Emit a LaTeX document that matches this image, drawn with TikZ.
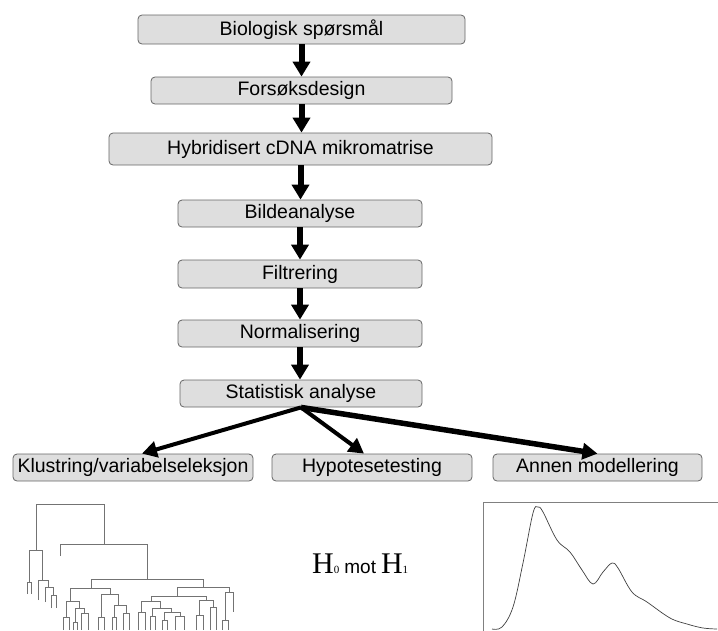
\documentclass[tikz,border=0pt]{standalone}
\usepackage{fontspec}
\setmainfont{Liberation Sans}
\newfontfamily\serifH{Liberation Serif}
\usetikzlibrary{arrows.meta}
\begin{document}
\begin{tikzpicture}[x=1pt,y=-1pt,
  box/.style={draw=black!60, fill=black!13, rounded corners=4pt, inner sep=0pt,
    font=\fontsize{19.5}{20}\selectfont, line width=0.8pt},
  flow/.style={line width=6pt, -{Triangle[length=15pt,width=17pt]}},
  fan/.style={line width=4pt, -{Triangle[length=15pt,width=16pt]}},
  dendro/.style={black!55, line width=0.9pt},
]
\useasboundingbox (0,0) rectangle (718,630);

% main flow boxes
\node[box, minimum width=327pt, minimum height=29pt] (b1) at (301.5,29.5) {Biologisk spørsmål};
\node[box, minimum width=301pt, minimum height=27pt] (b2) at (301.5,90.5) {Forsøksdesign};
\node[box, minimum width=383pt, minimum height=32pt] (b3) at (300.5,149) {Hybridisert cDNA mikromatrise};
\node[box, minimum width=244pt, minimum height=27pt] (b4) at (300,213.5) {Bildeanalyse};
\node[box, minimum width=244pt, minimum height=28pt] (b5) at (300,274) {Filtrering};
\node[box, minimum width=244pt, minimum height=27pt] (b6) at (300,333.5) {Normalisering};
\node[box, minimum width=242pt, minimum height=27pt] (b7) at (301,393.5) {Statistisk analyse};

% bottom boxes
\node[box, minimum width=240pt, minimum height=27pt] (k) at (133,467.5) {Klustring/variabelseleksjon};
\node[box, minimum width=200pt, minimum height=27pt] (hy) at (372,467.5) {Hypotesetesting};
\node[box, minimum width=209pt, minimum height=27pt] (an) at (597.5,467.5) {Annen modellering};

% flow arrows
\draw[flow] (b1.south) -- (b1.south |- b2.north);
\draw[flow] (b2.south) -- (b2.south |- b3.north);
\draw[flow] (b3.south) -- (b3.south |- b4.north);
\draw[flow] (b4.south) -- (b4.south |- b5.north);
\draw[flow] (b5.south) -- (b5.south |- b6.north);
\draw[flow] (b6.south) -- (b6.south |- b7.north);

% fan-out arrows
\draw[fan] (b7.south) -- ([xshift=9pt]k.north);
\draw[fan] (b7.south) -- ([xshift=-8pt]hy.north);
\draw[fan, line width=5.5pt] (b7.south) -- (an.north);

% dendrogram
\begin{scope}[dendro]
\draw (36,550) |- (104,504) -- (104,544);
\draw (29,582) |- (42,550) -- (42,580);
\draw (27,594) |- (31,582) -- (31,594);
\draw (38,600) |- (48,580) -- (48,587);
\draw (45,602) |- (53,587) -- (53,595);
\draw (51,608) |- (56,595) -- (56,608);
\draw (60,556) |- (147,544) -- (147,579);
\draw (91,588) |- (203,579) -- (203,587);
\draw (70,601) |- (110,588) -- (110,594);
\draw (66,617) |- (79,601) -- (79,608);
\draw (63,630) |- (69,617) -- (69,630);
\draw (75,622) |- (84,608) -- (84,613);
\draw (73,630) |- (77,622) -- (77,630);
\draw (81,630) |- (88,613) -- (88,630);
\draw (101,617) |- (118,594) -- (118,605);
\draw (98,630) |- (104,617) -- (104,630);
\draw (114,617) |- (126,605) -- (126,613);
\draw (112,630) |- (116,617) -- (116,630);
\draw (123,630) |- (129,613) -- (129,630);
\draw (177,596) |- (229,587) -- (229,592);
\draw (151,601) |- (206,596) -- (206,600);
\draw (141,612) |- (160,601) -- (160,608);
\draw (138,630) |- (145,612) -- (145,630);
\draw (152,616) |- (171,608) -- (171,612);
\draw (150,630) |- (155,616) -- (155,630);
\draw (164,620) |- (180,612) -- (180,616);
\draw (162,630) |- (167,620) -- (167,630);
\draw (175,630) |- (184,616) -- (184,630);
\draw (199,615) |- (213,600) -- (213,607);
\draw (196,630) |- (203,615) -- (203,630);
\draw (210,630) |- (216,607) -- (216,630);
\draw (225,620) |- (233,592) -- (233,612);
\draw (222,630) |- (228,620) -- (228,630);
\end{scope}

% hypotheses
\node[anchor=base west, inner sep=0pt] (h) at (312,573)
  {{\serifH\fontsize{30}{30}\selectfont H}{\serifH\fontsize{11}{11}\selectfont 0}\hspace{5pt}{\fontsize{19}{19}\selectfont mot}\hspace{5pt}{\serifH\fontsize{30}{30}\selectfont H}{\serifH\fontsize{11}{11}\selectfont 1}};

% density plot
\begin{scope}
\clip (0,0) rectangle (718,630);
\draw[black!50, line width=0.8pt] (483,632) -- (483,502) -- (730,502);
\draw[black!75, line width=0.7pt] plot[smooth, tension=0.6] coordinates {
  (492,629) (502,627) (513,607) (523,563) (533,513) (538,507) (543,512)
  (557,540) (570,552) (582,570) (593,584) (603,572) (612,563) (618,568)
  (632,592) (647,602) (670,618) (687,624) (703,628) (717,629)};
\end{scope}
\end{tikzpicture}
\end{document}
